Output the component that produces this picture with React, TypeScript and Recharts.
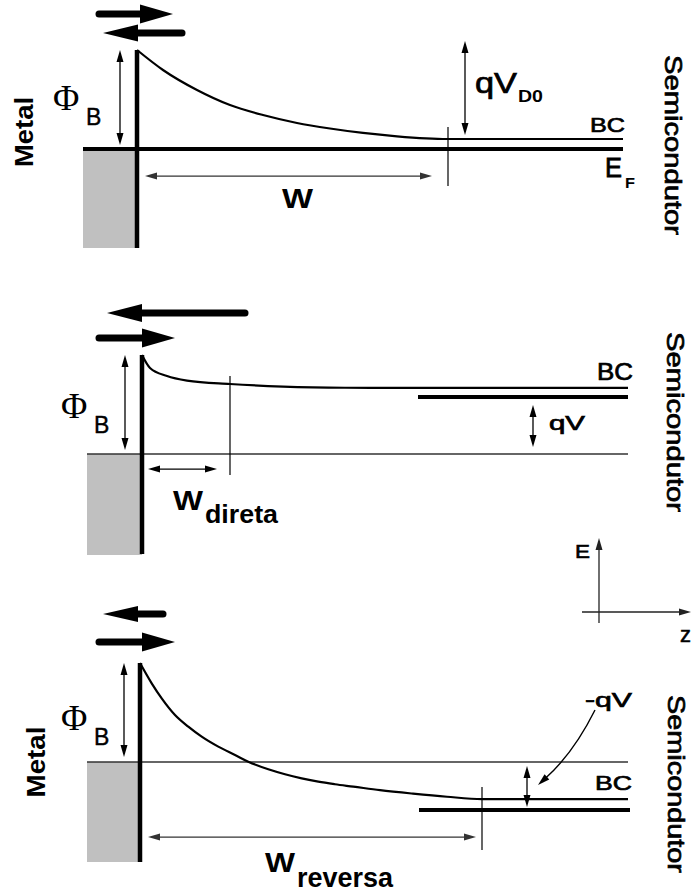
import React from 'react';
import { ComposedChart, Line, XAxis, YAxis, ReferenceLine, ReferenceArea, ReferenceDot } from 'recharts';

// ---------------- data ----------------
// z: position measured from the metal/semiconductor interface (arbitrary units)
// e: electron energy in units of the barrier height Φ_B, metal Fermi level = 0
const bandEquilibrium = [
  { z: 0, e: 1.0 }, { z: 2.6, e: 0.798 }, { z: 6.0, e: 0.596 }, { z: 9.3, e: 0.444 },
  { z: 12.6, e: 0.343 }, { z: 16.0, e: 0.263 }, { z: 19.3, e: 0.207 }, { z: 22.6, e: 0.162 },
  { z: 26.0, e: 0.128 }, { z: 31.0, e: 0.101 }, { z: 48.6, e: 0.101 },
];
const bandForward = [
  { z: 0, e: 1.0 }, { z: 0.8, e: 0.869 }, { z: 2.5, e: 0.788 }, { z: 4.5, e: 0.742 },
  { z: 8.8, e: 0.707 }, { z: 14.1, e: 0.681 }, { z: 20.3, e: 0.669 }, { z: 27.0, e: 0.667 }, { z: 48.6, e: 0.667 },
];
const bandReverse = [
  { z: 0, e: 1.0 }, { z: 1.17, e: 0.795 }, { z: 2.17, e: 0.643 }, { z: 3.5, e: 0.475 },
  { z: 4.83, e: 0.357 }, { z: 6.17, e: 0.256 }, { z: 7.83, e: 0.155 }, { z: 9.5, e: 0.071 },
  { z: 10.83, e: 0.003 }, { z: 12.83, e: -0.074 }, { z: 14.5, e: -0.124 }, { z: 16.17, e: -0.165 },
  { z: 17.83, e: -0.199 }, { z: 19.5, e: -0.225 }, { z: 21.33, e: -0.249 }, { z: 24.0, e: -0.285 },
  { z: 27.3, e: -0.32 }, { z: 30.7, e: -0.351 }, { z: 34.2, e: -0.374 }, { z: 48.8, e: -0.374 },
];
const depletionWidths = [31.1, 8.8, 34.2]; // equilibrium, forward, reverse
const semiFermiLevels = [0, 0.576, -0.485]; // semiconductor E_F per case
const phiB = 1.0;
const metalLeft = [-5.4, -5.5, -5.3];
const rightEnd = [48.6, 48.6, 48.8];

const txtMetal = 'Metal';
const txtSemi = 'Semicondutor';
const txtPhi = 'Φ';
const txtB = 'B';
const txtBC = 'BC';
const txtW = 'W';
const txtDireta = 'direta';
const txtReversa = 'reversa';
const txtQV = 'qV';
const txtD0 = 'D0';
const txtMinusQV = '-qV';
const txtE = 'E';
const txtF = 'F';
const txtZ = 'z';

// ---------------- layout ----------------
const WIDTH = 691;
const PX_PER_Z = 10;
const PX_PER_E = 99;
const FONT = '"Liberation Sans", Arial, sans-serif';
const SERIF = '"Liberation Serif", "Times New Roman", serif';

type PanelLayout = { top: number; height: number; ifx: number; efy: number };
const L1: PanelLayout = { top: 0, height: 290, ifx: 137, efy: 149 };
const L2: PanelLayout = { top: 290, height: 360, ifx: 142, efy: 454 };
const L3: PanelLayout = { top: 590, height: 302, ifx: 140, efy: 762 };

const seg = (x1: number, y1: number, x2: number, y2: number) => [{ x: x1, y: y1 }, { x: x2, y: y2 }];

// ---------------- shapes ----------------
function headPts(xt: number, yt: number, ux: number, uy: number, len: number, hw: number) {
  const bx = xt - ux * len, by = yt - uy * len;
  const nx = -uy, ny = ux;
  return `${xt},${yt} ${bx + nx * hw},${by + ny * hw} ${bx - nx * hw},${by - ny * hw}`;
}

type ArrowOpts = { start?: boolean; end?: boolean; color?: string; width?: number; len?: number; hw?: number };
const thinArrow = (o: ArrowOpts) => (p: any) => {
  const { x1, y1, x2, y2 } = p;
  const color = o.color ?? '#000';
  const len = o.len ?? 12, hw = o.hw ?? 3.5;
  const d = Math.hypot(x2 - x1, y2 - y1) || 1;
  const ux = (x2 - x1) / d, uy = (y2 - y1) / d;
  const sx = o.start ? x1 + ux * (len - 2) : x1;
  const sy = o.start ? y1 + uy * (len - 2) : y1;
  const ex = o.end ? x2 - ux * (len - 2) : x2;
  const ey = o.end ? y2 - uy * (len - 2) : y2;
  return (
    <g>
      <line x1={sx} y1={sy} x2={ex} y2={ey} stroke={color} strokeWidth={o.width ?? 1.3} />
      {o.start && <polygon points={headPts(x1, y1, -ux, -uy, len, hw)} fill={color} />}
      {o.end && <polygon points={headPts(x2, y2, ux, uy, len, hw)} fill={color} />}
    </g>
  );
};

const fatArrow = (len = 33, hw = 9.5, w = 7) => (p: any) => {
  const { x1, y1, x2, y2 } = p;
  const dir = x2 > x1 ? 1 : -1;
  const bx = x2 - dir * len;
  return (
    <g>
      <line x1={x1} y1={y1} x2={bx + dir * 2} y2={y2} stroke="#000" strokeWidth={w} strokeLinecap="round" />
      <polygon points={`${x2},${y2} ${bx},${y2 - hw} ${bx},${y2 + hw}`} fill="#000" />
    </g>
  );
};

const curvedArrow = (p: any) => {
  const { x1, y1, x2, y2 } = p;
  const dx = x2 - x1, dy = y2 - y1;
  const d = Math.hypot(dx, dy) || 1;
  const nx = dy / d, ny = -dx / d;
  const cx = (x1 + x2) / 2 + nx * 9, cy = (y1 + y2) / 2 + ny * 9;
  const tx = x2 - cx, ty = y2 - cy;
  const td = Math.hypot(tx, ty) || 1;
  const ux = tx / td, uy = ty / td;
  const len = 12;
  return (
    <g>
      <path d={`M${x1},${y1} Q${cx},${cy} ${x2 - ux * (len - 2)},${y2 - uy * (len - 2)}`} fill="none" stroke="#000" strokeWidth={1.4} />
      <polygon points={headPts(x2, y2, ux, uy, len, 3.5)} fill="#000" />
    </g>
  );
};

type TS = { size: number; len?: number; weight?: string; family?: string; thick?: number };
const textEl = (s: string, x: number, y: number, o: TS, extra: any = {}) => (
  <text x={x} y={y} fontFamily={o.family ?? FONT} fontSize={o.size} fontWeight={o.weight ?? 'normal'}
    textLength={o.len} lengthAdjust={o.len ? 'spacingAndGlyphs' : undefined} fill="#000"
    stroke={o.thick ? '#000' : undefined} strokeWidth={o.thick} {...extra}>{s}</text>
);
const label = (s: string, o: TS & { rotate?: number; anchor?: string }) => (p: any) =>
  textEl(s, p.cx, p.cy, o, {
    textAnchor: o.anchor ?? 'start',
    transform: o.rotate ? `rotate(${o.rotate} ${p.cx} ${p.cy})` : undefined,
  });
const subLabel = (main: string, sub: string, m: TS, s: TS & { dx: number; dy: number }) => (p: any) => (
  <g>
    {textEl(main, p.cx, p.cy, m)}
    {textEl(sub, p.cx + s.dx, p.cy + s.dy, s)}
  </g>
);
const phiLabel = subLabel(txtPhi, txtB, { size: 36, family: SERIF }, { size: 23, dx: 33, dy: 15, thick: 0.4 });

const SEMI = { size: 24, weight: 'normal', thick: 0.7, rotate: 90, anchor: 'middle' };

function Panel({ l, children }: { l: PanelLayout; children: React.ReactNode }) {
  const xDomain = [-l.ifx / PX_PER_Z, (WIDTH - l.ifx) / PX_PER_Z];
  const yMax = (l.efy - l.top) / PX_PER_E;
  const yDomain = [yMax - l.height / PX_PER_E, yMax];
  return (
    <div style={{ position: 'absolute', left: 0, top: l.top, width: WIDTH, height: l.height }}>
      <ComposedChart width={WIDTH} height={l.height} margin={{ top: 0, right: 0, bottom: 0, left: 0 }}>
        <XAxis type="number" dataKey="z" domain={xDomain} hide allowDataOverflow />
        <YAxis type="number" dataKey="e" domain={yDomain} hide allowDataOverflow />
        {children}
      </ComposedChart>
    </div>
  );
}

const dot = (x: number, y: number, shape: any) => <ReferenceDot x={x} y={y} r={1} shape={shape} />;

export default function App() {
  const [w1, w2, w3] = depletionWidths;
  const [, ef2, ef3] = semiFermiLevels;
  return (
    <div style={{ position: 'absolute', left: 0, top: 0, width: WIDTH, height: 892, background: '#fff', overflow: 'hidden' }}>
      {/* ---------- equilibrium ---------- */}
      <Panel l={L1}>
        <ReferenceArea x1={metalLeft[0]} x2={0} y1={-phiB} y2={0} fill="#c0c0c0" fillOpacity={1} stroke="none" />
        <ReferenceLine segment={seg(metalLeft[0], 0, rightEnd[0], 0)} stroke="#000" strokeWidth={4} />
        <Line data={bandEquilibrium} dataKey="e" type="monotone" stroke="#000" strokeWidth={2.2} dot={false} activeDot={false} isAnimationActive={false} />
        <ReferenceLine segment={seg(0, -phiB, 0, phiB)} stroke="#000" strokeWidth={4.5} />
        <ReferenceLine segment={seg(w1, 0.222, w1, -0.374)} stroke="#000" strokeWidth={1.2} />
        <ReferenceLine segment={seg(0.8, -0.273, 29.5, -0.273)} shape={thinArrow({ start: true, end: true, color: '#333' })} />
        <ReferenceLine segment={seg(-1.7, 0.04, -1.7, phiB)} shape={thinArrow({ start: true, end: true })} />
        <ReferenceLine segment={seg(32.8, 0.141, 32.8, 1.091)} shape={thinArrow({ start: true, end: true })} />
        <ReferenceLine segment={seg(-3.8, 1.364, 3.6, 1.364)} shape={fatArrow()} />
        <ReferenceLine segment={seg(4.5, 1.172, -3.4, 1.172)} shape={fatArrow(35, 8.5)} />
        {dot(-8.4, 0.394, phiLabel)}
        {dot(33.8, 0.566, subLabel(txtQV, txtD0, { size: 29, len: 42, thick: 0.7 }, { size: 17, len: 25, dx: 43, dy: 9, weight: 'bold' }))}
        {dot(45.3, 0.172, label(txtBC, { size: 21, len: 35, thick: 0.7 }))}
        {dot(46.8, -0.283, subLabel(txtE, txtF, { size: 28, len: 17, thick: 0.8 }, { size: 15, len: 10, dx: 20, dy: 11, weight: 'bold' }))}
        {dot(14.5, -0.596, label(txtW, { size: 28, len: 31, weight: 'bold' }))}
        {dot(-10.4, 0.172, label(txtMetal, { size: 25, len: 70, weight: 'bold', rotate: -90, anchor: 'middle' }))}
        {dot(52.8, 0.04, label(txtSemi, { ...SEMI, len: 180 }))}
      </Panel>

      {/* ---------- forward bias ---------- */}
      <Panel l={L2}>
        <ReferenceArea x1={metalLeft[1]} x2={0} y1={-1.02} y2={0} fill="#c0c0c0" fillOpacity={1} stroke="none" />
        <ReferenceLine segment={seg(metalLeft[1], 0, rightEnd[1], 0)} stroke="#333" strokeWidth={1.5} />
        <Line data={bandForward} dataKey="e" type="monotone" stroke="#000" strokeWidth={2.2} dot={false} activeDot={false} isAnimationActive={false} />
        <ReferenceLine segment={seg(0, -1.01, 0, phiB)} stroke="#000" strokeWidth={4.5} />
        <ReferenceLine segment={seg(27.6, ef2, rightEnd[1], ef2)} stroke="#000" strokeWidth={4} />
        <ReferenceLine segment={seg(w2, 0.788, w2, -0.212)} stroke="#000" strokeWidth={1.2} />
        <ReferenceLine segment={seg(0.6, -0.152, 7.5, -0.152)} shape={thinArrow({ start: true, end: true })} />
        <ReferenceLine segment={seg(-1.7, 0.04, -1.7, phiB)} shape={thinArrow({ start: true, end: true })} />
        <ReferenceLine segment={seg(39.1, 0.071, 39.1, 0.495)} shape={thinArrow({ start: true, end: true })} />
        <ReferenceLine segment={seg(10.3, 1.424, -3.5, 1.424)} shape={fatArrow(35, 9)} />
        <ReferenceLine segment={seg(-4.3, 1.172, 3.3, 1.172)} shape={fatArrow()} />
        <ReferenceLine segment={seg(45.7, -1.707, 45.7, -0.848)} shape={thinArrow({ end: true, color: '#222' })} />
        <ReferenceLine segment={seg(44.0, -1.596, 54.9, -1.596)} shape={thinArrow({ end: true, color: '#222' })} />
        {dot(-8.1, 0.364, phiLabel)}
        {dot(3.1, -0.566, subLabel(txtW, txtDireta, { size: 28, len: 30, weight: 'bold' }, { size: 26, len: 73, dx: 32, dy: 13, weight: 'bold' }))}
        {dot(40.7, 0.242, label(txtQV, { size: 21, len: 36, thick: 0.7 }))}
        {dot(45.5, 0.747, label(txtBC, { size: 23, len: 36, thick: 0.7 }))}
        {dot(52.5, 0.323, label(txtSemi, { ...SEMI, len: 180 }))}
        {dot(43.3, -1.051, label(txtE, { size: 18, len: 15, thick: 0.6 }))}
        {dot(53.8, -1.899, label(txtZ, { size: 22, thick: 0.5 }))}
      </Panel>

      {/* ---------- reverse bias ---------- */}
      <Panel l={L3}>
        <ReferenceArea x1={metalLeft[2]} x2={0} y1={-1.01} y2={0} fill="#c0c0c0" fillOpacity={1} stroke="none" />
        <ReferenceLine segment={seg(metalLeft[2], 0, rightEnd[2], 0)} stroke="#333" strokeWidth={1.5} />
        <Line data={bandReverse} dataKey="e" type="monotone" stroke="#000" strokeWidth={2.2} dot={false} activeDot={false} isAnimationActive={false} />
        <ReferenceLine segment={seg(0, -1.01, 0, phiB)} stroke="#000" strokeWidth={4.5} />
        <ReferenceLine segment={seg(27.9, ef3, 49.0, ef3)} stroke="#000" strokeWidth={4} />
        <ReferenceLine segment={seg(w3, -0.253, w3, -0.889)} stroke="#000" strokeWidth={1.2} />
        <ReferenceLine segment={seg(0.8, -0.758, 33.6, -0.758)} shape={thinArrow({ start: true, end: true, color: '#333' })} />
        <ReferenceLine segment={seg(-1.6, 0.05, -1.6, phiB)} shape={thinArrow({ start: true, end: true })} />
        <ReferenceLine segment={seg(38.7, -0.04, 38.7, -0.455)} shape={thinArrow({ start: true, end: true })} />
        <ReferenceLine segment={seg(45.5, 0.525, 39.8, -0.232)} shape={curvedArrow} />
        <ReferenceLine segment={seg(2.3, 1.495, -3.7, 1.495)} shape={fatArrow(35, 8)} />
        <ReferenceLine segment={seg(-4.1, 1.212, 3.5, 1.212)} shape={fatArrow()} />
        {dot(-7.9, 0.323, phiLabel)}
        {dot(-9.5, 0.0, label(txtMetal, { size: 25, len: 71, weight: 'bold', rotate: -90, anchor: 'middle' }))}
        {dot(44.5, 0.556, label(txtMinusQV, { size: 21, len: 47, thick: 0.7 }))}
        {dot(45.5, -0.283, label(txtBC, { size: 21, len: 37, thick: 0.7 }))}
        {dot(12.5, -1.111, subLabel(txtW, txtReversa, { size: 28, len: 30, weight: 'bold' }, { size: 27, len: 96, dx: 32, dy: 15, weight: 'bold' }))}
        {dot(52.8, -0.222, label(txtSemi, { ...SEMI, len: 178 }))}
      </Panel>
    </div>
  );
}
